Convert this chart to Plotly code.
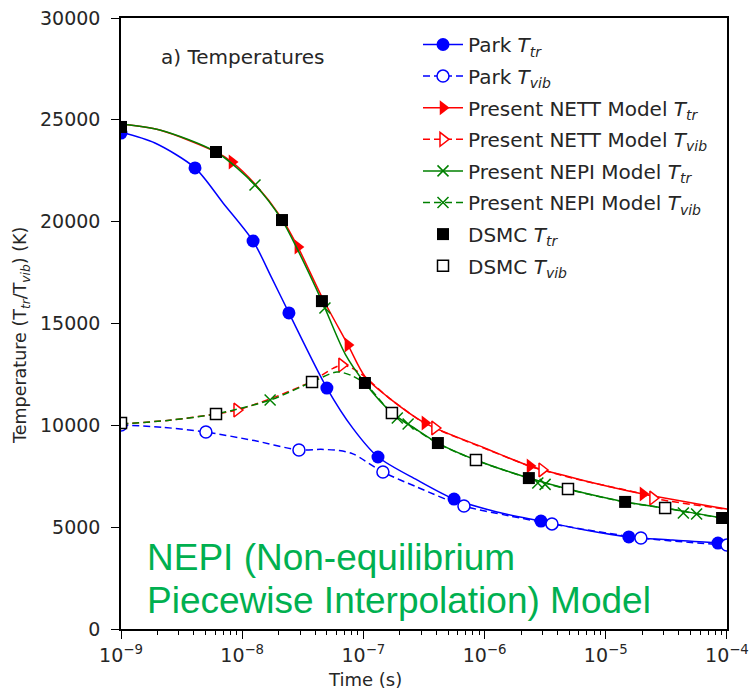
import plotly.graph_objects as go

# ---------------- data ----------------
# Park model, translational temperature
park_tr_line_t = [1e-9, 1.905e-9, 4.08e-9, 6.95e-9, 1.23e-8, 1.74e-8, 2.43e-8, 5.0e-8, 8.2e-8,
                  1.32e-7, 2.77e-7, 5.6e-7, 1.265e-6, 2.92e-6, 6.76e-6, 1.55e-5, 3.58e-5, 8.43e-5, 1e-4]
park_tr_line_T = [24400, 23860, 22640, 20920, 19050, 17280, 15520, 11830, 9850,
                  8445, 7320, 6380, 5745, 5300, 4860, 4520, 4370, 4220, 4170]
park_tr_mk_t = [1e-9, 4.08e-9, 1.23e-8, 2.43e-8, 5.0e-8, 1.32e-7, 5.6e-7, 2.92e-6, 1.55e-5, 8.43e-5]
park_tr_mk_T = [24350, 22640, 19050, 15520, 11830, 8445, 6380, 5300, 4520, 4220]

# Park model, vibrational temperature
park_vib_line_t = [1e-9, 2.24e-9, 5.02e-9, 1.26e-8, 2.94e-8, 4.47e-8, 6.31e-8, 8.2e-8, 1.45e-7,
                   2.77e-7, 6.76e-7, 1.585e-6, 3.6e-6, 1.95e-5, 1e-4]
park_vib_line_T = [10020, 9900, 9670, 9250, 8790, 8820, 8760, 8600, 7710,
                   6970, 6040, 5560, 5160, 4470, 4120]
park_vib_mk_t = [1e-9, 5.02e-9, 2.94e-8, 1.45e-7, 6.76e-7, 3.6e-6, 1.95e-5, 1e-4]
park_vib_mk_T = [10020, 9670, 8790, 7710, 6040, 5160, 4470, 4120]

# Present NETT model
nett_tr_line_t = [1e-9, 2.09e-9, 6.08e-9, 8.24e-9, 1.276e-8, 2.13e-8, 2.88e-8, 4.55e-8, 7.46e-8,
                  1.03e-7, 1.585e-7, 3.22e-7, 1e-6, 2.37e-6, 6.31e-6, 2.03e-5, 1e-4]
nett_tr_line_T = [24800, 24500, 23420, 22930, 21850, 20150, 18760, 16300, 13950,
                  12400, 11400, 10110, 8890, 8000, 7320, 6630, 5890]
nett_tr_mk_t = [8.24e-9, 2.88e-8, 7.46e-8, 3.22e-7, 2.37e-6, 2.03e-5]
nett_tr_mk_T = [22930, 18760, 13950, 10110, 8000, 6630]

nett_vib_line_t = [1e-9, 2.51e-9, 6.08e-9, 9.06e-9, 1.7e-8, 3.77e-8, 5.62e-8, 6.65e-8, 8.13e-8,
                   1.03e-7, 1.585e-7, 3.22e-7, 3.89e-7, 1e-6, 2.37e-6, 2.98e-6, 6.31e-6,
                   2.03e-5, 2.45e-5, 1e-4]
nett_vib_line_T = [10070, 10250, 10560, 10750, 11300, 12170, 12800, 12960, 12800,
                   12380, 11400, 10080, 9850, 8870, 7990, 7810, 7300,
                   6620, 6430, 5880]
nett_vib_mk_t = [9.06e-9, 6.65e-8, 3.89e-7, 2.98e-6, 2.45e-5]
nett_vib_mk_T = [10750, 12960, 9870, 7810, 6430]

# Present NEPI model
nepi_tr_line_t = [1e-9, 2.09e-9, 6.08e-9, 1.276e-8, 2.13e-8, 2.88e-8, 4.55e-8, 7.08e-8, 1.03e-7,
                  1.72e-7, 2.51e-7, 4.12e-7, 8.49e-7, 2.32e-6, 4.88e-6, 1.445e-5, 3.09e-5,
                  9.12e-5, 1e-4]
nepi_tr_line_T = [24800, 24500, 23420, 21800, 20080, 18600, 16100, 13500, 12080,
                  10610, 9950, 9130, 8300, 7410, 6870, 6240, 5940,
                  5450, 5420]
nepi_tr_mk_t = [1.276e-8, 4.82e-8, 1.905e-7, 2.75e-6, 4.37e-5]
nepi_tr_mk_T = [21800, 15760, 10360, 7170, 5700]

nepi_vib_line_t = [1e-9, 2.51e-9, 6.08e-9, 1.7e-8, 3.77e-8, 6.05e-8, 7.94e-8, 1.03e-7, 1.72e-7,
                   2.51e-7, 4.12e-7, 8.49e-7, 2.32e-6, 4.88e-6, 1.445e-5, 3.09e-5, 9.12e-5, 1e-4]
nepi_vib_line_T = [10070, 10250, 10560, 11240, 12130, 12620, 12450, 12050, 10600,
                   9930, 9110, 8290, 7400, 6860, 6230, 5930, 5440, 5410]
nepi_vib_mk_t = [1.7e-8, 2.34e-7, 3.16e-6, 5.62e-5]
nepi_vib_mk_T = [11240, 10070, 7100, 5650]

# DSMC reference points
dsmc_tr_t = [1e-9, 6.08e-9, 2.13e-8, 4.55e-8, 1.03e-7, 4.12e-7, 2.32e-6, 1.445e-5, 9.12e-5]
dsmc_tr_T = [24650, 23420, 20080, 16100, 12080, 9130, 7410, 6240, 5450]
dsmc_vib_t = [1e-9, 6.08e-9, 3.77e-8, 1.72e-7, 8.49e-7, 4.88e-6, 3.09e-5]
dsmc_vib_T = [10110, 10560, 12130, 10610, 8300, 6870, 5940]

y_ticks = [0, 5000, 10000, 15000, 20000, 25000, 30000]
x_ticks = [1e-9, 1e-8, 1e-7, 1e-6, 1e-5, 1e-4]
x_ticktext = ["10<sup>\u22129</sup>", "10<sup>\u22128</sup>", "10<sup>\u22127</sup>",
              "10<sup>\u22126</sup>", "10<sup>\u22125</sup>", "10<sup>\u22124</sup>"]
x_minor = [m * d for d in x_ticks[:-1] for m in range(2, 10)]

# ---------------- styling ----------------
BLUE, RED, GREEN = "#0000ff", "#ff0000", "#008000"
LW = 1.5
DASH = "7px,4px"
FONT = "DejaVu Sans"
TXT = "#262626"

fig = go.Figure()

def line(t, T, color, dash):
    fig.add_trace(go.Scatter(x=t, y=T, mode="lines", showlegend=False, hoverinfo="skip",
                             line=dict(color=color, width=LW, dash=dash, shape="spline", smoothing=0.8)))

def marks(t, T, marker):
    fig.add_trace(go.Scatter(x=t, y=T, mode="markers", showlegend=False, marker=marker))

mk_park_tr = dict(symbol="circle", size=13, color=BLUE, line=dict(width=0))
mk_park_vib = dict(symbol="circle", size=12, color="white", line=dict(color=BLUE, width=1.5))
mk_nett_tr = dict(symbol="triangle-right", size=13, color=RED, line=dict(width=0))
mk_nett_vib = dict(symbol="triangle-right", size=12, color="white", line=dict(color=RED, width=1.5))
mk_nepi = dict(symbol="x-thin", size=11, color=GREEN, line=dict(color=GREEN, width=1.5))
mk_dsmc_tr = dict(symbol="square", size=12, color="black", line=dict(width=0))
mk_dsmc_vib = dict(symbol="square", size=11, color="white", line=dict(color="black", width=1.5))

line(park_tr_line_t, park_tr_line_T, BLUE, "solid")
marks(park_tr_mk_t, park_tr_mk_T, mk_park_tr)
line(park_vib_line_t, park_vib_line_T, BLUE, DASH)
marks(park_vib_mk_t, park_vib_mk_T, mk_park_vib)
line(nett_tr_line_t, nett_tr_line_T, RED, "solid")
line(nett_vib_line_t, nett_vib_line_T, RED, DASH)
marks(nett_tr_mk_t, nett_tr_mk_T, mk_nett_tr)
marks(nett_vib_mk_t, nett_vib_mk_T, mk_nett_vib)
line(nepi_tr_line_t, nepi_tr_line_T, GREEN, "solid")
line(nepi_vib_line_t, nepi_vib_line_T, GREEN, DASH)
marks(nepi_tr_mk_t, nepi_tr_mk_T, mk_nepi)
marks(nepi_vib_mk_t, nepi_vib_mk_T, mk_nepi)
marks(dsmc_tr_t, dsmc_tr_T, mk_dsmc_tr)
marks(dsmc_vib_t, dsmc_vib_T, mk_dsmc_vib)

# legend entries
legend_items = [
    ("Park <i>T</i><sub><i>tr</i></sub>", "lines+markers", BLUE, "solid", mk_park_tr),
    ("Park <i>T</i><sub><i>vib</i></sub>", "lines+markers", BLUE, DASH, mk_park_vib),
    ("Present NETT Model <i>T</i><sub><i>tr</i></sub>", "lines+markers", RED, "solid", mk_nett_tr),
    ("Present NETT Model <i>T</i><sub><i>vib</i></sub>", "lines+markers", RED, DASH, mk_nett_vib),
    ("Present NEPI Model <i>T</i><sub><i>tr</i></sub>", "lines+markers", GREEN, "solid", mk_nepi),
    ("Present NEPI Model <i>T</i><sub><i>vib</i></sub>", "lines+markers", GREEN, DASH, mk_nepi),
    ("DSMC <i>T</i><sub><i>tr</i></sub>", "markers", "black", "solid", mk_dsmc_tr),
    ("DSMC <i>T</i><sub><i>vib</i></sub>", "markers", "black", "solid", mk_dsmc_vib),
]
for i, (name, mode, color, dash, mk) in enumerate(legend_items):
    fig.add_trace(go.Scatter(x=[None], y=[None], mode=mode, name=name, legendgroup=f"g{i}",
                             line=dict(color=color, width=LW, dash=dash), marker=mk))

L, R, T, B = 121, 22, 18, 62
W, H = 749, 691
pw, ph = W - L - R, H - T - B

def px(x):
    return (x - L) / pw

def py(y):
    return (H - B - y) / ph

fig.update_layout(
    width=W, height=H,
    margin=dict(l=L, r=R, t=T, b=B, autoexpand=False),
    paper_bgcolor="white", plot_bgcolor="white",
    font=dict(family=FONT, size=19, color=TXT),
    showlegend=True,
    legend=dict(x=px(418), y=py(25), xanchor="left", yanchor="top",
                bgcolor="rgba(0,0,0,0)", borderwidth=0, traceorder="grouped",
                tracegroupgap=2.6, font=dict(family=FONT, size=20, color=TXT),
                itemwidth=40),
    xaxis=dict(type="log", range=[-9, -3.9995], tickvals=x_ticks, ticktext=x_ticktext,
               automargin=False,
               showline=True, mirror=True, linecolor="black", linewidth=1.5,
               ticks="outside", ticklen=8, tickwidth=1.2, tickcolor="black",
               ticklabelstandoff=0, ticklabeloverflow="allow",
               showgrid=False, zeroline=False,
               minor=dict(tickvals=x_minor, ticks="outside", ticklen=4, tickwidth=1,
                          tickcolor="black", showgrid=False),
               tickfont=dict(size=19)),
    yaxis=dict(range=[0, 30000], tickvals=y_ticks, tickformat="d",
               automargin=False,
               showline=True, mirror=True, linecolor="black", linewidth=1.5,
               ticks="outside", ticklen=8, tickwidth=1.2, tickcolor="black",
               ticklabelstandoff=7,
               showgrid=False, zeroline=False,
               tickfont=dict(size=19)),
)

# axis titles placed where the reference shows them
fig.add_annotation(text="Time (s)", xref="paper", yref="paper", x=px(365), y=py(679),
                   xanchor="center", yanchor="middle", showarrow=False,
                   font=dict(family=FONT, size=18, color=TXT))
fig.add_annotation(text="Temperature (T<sub><i>tr</i></sub>/T<sub><i>vib</i></sub>) (K)",
                   xref="paper", yref="paper", x=px(21), y=py(336), textangle=-90,
                   xanchor="center", yanchor="middle", showarrow=False,
                   font=dict(family=FONT, size=17.5, color=TXT))

fig.add_annotation(text="a) Temperatures", xref="paper", yref="paper",
                   x=px(159), y=py(57), xanchor="left", yanchor="middle",
                   showarrow=False, font=dict(family=FONT, size=20, color=TXT))

NOTE_FONT = dict(family="Liberation Sans, Arial, sans-serif", size=37, color="#00b050")
fig.add_annotation(text="NEPI (Non-equilibrium", xref="paper", yref="paper",
                   x=px(145), y=py(557), xanchor="left", yanchor="middle",
                   showarrow=False, font=NOTE_FONT)
fig.add_annotation(text="Piecewise Interpolation) Model", xref="paper", yref="paper",
                   x=px(145), y=py(600), xanchor="left", yanchor="middle",
                   showarrow=False, font=NOTE_FONT)

fig.write_html("out.html")
